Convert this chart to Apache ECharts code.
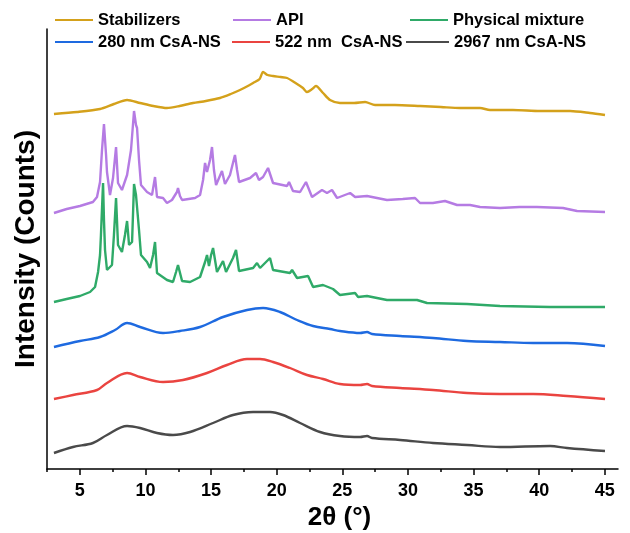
<!DOCTYPE html>
<html>
<head>
<meta charset="utf-8">
<script src="https://cdn.jsdelivr.net/npm/echarts@6/dist/echarts.min.js"></script>
<style>html,body{margin:0;padding:0;background:#fff}#c{width:630px;height:533px}</style>
</head>
<body>
<div id="c"></div>
<script>
// 2θ (°) tick marks
var majorTicks = [5, 10, 15, 20, 25, 30, 35, 40, 45];
var minorTicks = [2.5, 7.5, 12.5, 17.5, 22.5, 27.5, 32.5, 37.5, 42.5];

var seriesNames = ['Stabilizers', 'API', 'Physical mixture', '280 nm CsA-NS', '522 nm  CsA-NS', '2967 nm CsA-NS'];

// [2θ, intensity (stacked, arbitrary counts)]
var stabilizers = [[3.03,355],[4.8,357],[6.54,360],[7.6,365],[8.6,369],[9.59,366],[10.6,363],[11.64,361],[12.6,363],[13.62,366],[14.6,368],[15.68,371],[16.5,375],[17.2,379],[17.8,383],[18.2,386],[18.7,390],[18.96,397],[19.3,394],[19.72,393],[20.3,392],[20.79,391],[21.55,385],[22.0,381],[22.31,377],[22.7,380],[22.99,383],[23.53,376],[24.06,369],[24.82,366],[25.9,366],[26.73,367],[27.49,364],[29.0,364],[30.92,363],[32.5,362],[33.97,361],[35.49,361],[36.25,359],[38.0,359],[40.06,358],[42.35,358],[43.87,356],[45.01,354]];

var api = [[3.03,256],[4.0,260],[5.01,263],[6.0,267],[6.31,272],[6.54,287],[6.69,319],[6.84,345],[7.0,314],[7.07,297],[7.3,274],[7.53,291],[7.76,322],[7.91,286],[8.21,279],[8.6,294],[8.75,292],[8.9,319],[9.13,358],[9.28,344],[9.36,341],[9.51,309],[9.66,284],[10.12,277],[10.5,274],[10.73,292],[10.88,272],[11.34,271],[11.64,266],[12.02,269],[12.4,277],[12.48,281],[12.63,273],[12.79,269],[13.78,271],[14.16,274],[14.39,289],[14.54,306],[14.69,297],[14.92,309],[15.07,322],[15.22,299],[15.38,284],[15.83,298],[16.06,285],[16.44,294],[16.82,314],[16.98,299],[17.13,287],[17.97,291],[18.42,296],[18.65,289],[18.96,292],[19.34,301],[19.72,286],[20.79,283],[20.94,287],[21.24,278],[21.78,277],[22.23,287],[22.69,272],[23.45,279],[23.83,276],[24.21,279],[24.6,271],[25.59,276],[25.97,272],[26.88,273],[28.4,269],[29.6,270],[30.54,271],[30.92,266],[31.9,266],[32.82,268],[33.74,264],[34.73,264],[35.49,262],[37.01,261],[38.5,262],[39.83,262],[41.81,261],[42.88,258],[45.01,257]];

var physMix = [[3.03,167],[4.0,170],[5.01,173],[5.78,177],[6.16,182],[6.39,197],[6.54,214],[6.61,234],[6.77,286],[6.84,249],[6.92,219],[7.07,199],[7.45,204],[7.6,234],[7.76,271],[7.91,224],[8.21,217],[8.44,234],[8.6,248],[8.75,224],[8.98,227],[9.13,285],[9.28,274],[9.36,272],[9.51,239],[9.66,214],[10.12,207],[10.35,201],[10.58,214],[10.73,227],[10.88,196],[11.64,189],[12.1,187],[12.33,197],[12.48,204],[12.79,188],[13.4,187],[14.16,192],[14.54,207],[14.69,214],[14.84,203],[15.0,214],[15.15,221],[15.45,197],[15.91,208],[16.14,197],[16.67,211],[16.9,219],[17.13,198],[18.2,201],[18.5,206],[18.73,201],[19.49,211],[19.72,199],[21.01,196],[21.17,199],[21.55,191],[22.39,193],[22.77,182],[23.53,184],[24.29,180],[24.44,181],[24.82,174],[25.97,176],[26.2,172],[26.88,173],[28.4,169],[30.69,169],[31.45,166],[34.5,165],[37.01,163],[40.82,162],[45.01,162]];

var ns280 = [[3.03,122],[5.01,128],[6.54,132],[7.68,139],[8.6,146],[9.59,142],[11.34,136],[12.63,138],[14.16,142],[15.91,152],[17.74,159],[18.96,161],[20.25,157],[21.55,149],[22.77,143],[24.06,140],[24.82,138],[26.35,136],[26.88,137],[27.26,135],[29.4,133],[31.91,131],[34.5,128],[37.01,127],[39.53,126],[42.12,126],[45.01,123]];

var ns522 = [[3.03,70],[4.48,74],[6.31,79],[7.07,86],[8.6,96],[9.59,92],[11.34,87],[12.86,89],[14.69,96],[16.21,104],[17.74,110],[18.73,110],[19.72,107],[21.01,101],[22.31,94],[23.53,90],[24.82,85],[26.35,84],[26.88,85],[27.26,83],[29.4,81],[31.91,79],[34.5,76],[37.01,75],[39.53,75],[42.12,73],[45.01,70]];

var ns2967 = [[3.03,16],[4.48,22],[6.0,26],[7.07,34],[8.6,43],[9.59,41],[10.88,36],[12.1,34],[13.4,37],[15.15,46],[16.67,54],[18.2,57],[19.49,57],[20.48,54],[21.78,46],[23.3,37],[24.82,33],[26.35,32],[26.88,33],[27.26,31],[29.4,29],[31.91,26],[34.5,24],[37.01,22],[40.82,23],[42.12,21],[45.01,18]];

var colors = ['#D4A11B', '#B57BE3', '#2FAA68', '#1E6AE0', '#EA4440', '#4A4A4A'];
var datasets = [stabilizers, api, physMix, ns280, ns522, ns2967];
var smoothing = [0.25, 0, 0, 0.35, 0.35, 0.35];

var chart = echarts.init(document.getElementById('c'), null, {renderer: 'canvas'});
var FONT = 'Liberation Sans, Arial, sans-serif';

var legendPos = [
  {left: 55, top: 10, w: 38}, {left: 233, top: 10, w: 38}, {left: 410, top: 10, w: 38},
  {left: 55, top: 32, w: 38}, {left: 232, top: 32, w: 38}, {left: 406, top: 32, w: 43}
];

var option = {
  backgroundColor: '#fff',
  animation: false,
  color: colors,
  grid: {left: 47, right: 12, top: 29, bottom: 64, outerBoundsMode: 'none'},
  legend: legendPos.map(function (p, i) {
    return {
      data: [seriesNames[i]], left: p.left, top: p.top, padding: 0,
      icon: 'rect', itemWidth: p.w, itemHeight: 2, itemGap: 5,
      textStyle: {fontFamily: FONT, fontWeight: 'bold', fontSize: 16.5, lineHeight: 20, color: '#000'}
    };
  }),
  xAxis: [{
    type: 'value', min: 2.5, max: 46,
    name: '2θ (°)', nameLocation: 'middle', nameGap: 36,
    nameTextStyle: {fontFamily: FONT, fontWeight: 'bold', fontSize: 26, color: '#000', padding: [0, 0, 0, 14]},
    axisLine: {show: true, lineStyle: {color: '#000', width: 1.5}},
    axisTick: {show: true, length: 6, inside: false, customValues: majorTicks, lineStyle: {color: '#000', width: 1.5}},
    axisLabel: {show: true, customValues: majorTicks, margin: 13, fontFamily: FONT, fontWeight: 'bold', fontSize: 18, color: '#000'},
    splitLine: {show: false}
  }, {
    type: 'value', min: 2.5, max: 46, position: 'bottom',
    axisLine: {show: false},
    axisTick: {show: true, length: 3, customValues: minorTicks, lineStyle: {color: '#000', width: 1.5}},
    axisLabel: {show: false},
    splitLine: {show: false}
  }],
  yAxis: {
    type: 'value', min: 0, max: 440,
    name: 'Intensity (Counts)', nameLocation: 'middle', nameGap: 7,
    nameTextStyle: {fontFamily: FONT, fontWeight: 'bold', fontSize: 28, color: '#000'},
    axisLine: {show: true, lineStyle: {color: '#000', width: 1.5}},
    axisTick: {show: false}, axisLabel: {show: false}, splitLine: {show: false}
  },
  series: datasets.map(function (d, i) {
    return {
      name: seriesNames[i], type: 'line', data: d, xAxisIndex: 0,
      showSymbol: false, smooth: smoothing[i],
      lineStyle: {width: 2.4, color: colors[i]},
      itemStyle: {color: colors[i]}
    };
  })
};
chart.setOption(option);
</script>
</body>
</html>
